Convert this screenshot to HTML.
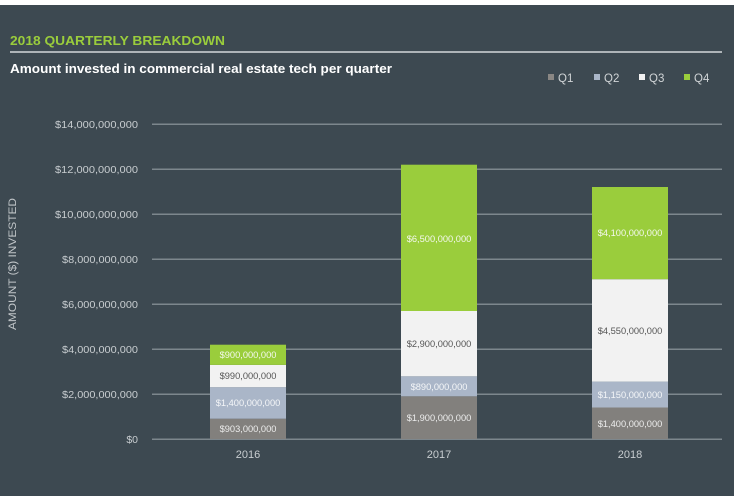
<!DOCTYPE html>
<html><head><meta charset="utf-8"><style>
html,body{margin:0;padding:0;background:#fff;}
svg{display:block;}
</style></head><body>
<svg width="734" height="501" viewBox="0 0 734 501" xmlns="http://www.w3.org/2000/svg" font-family="Liberation Sans, Arial, sans-serif">
<rect x="0" y="0" width="734" height="501" fill="#ffffff"/>
<rect x="0" y="5" width="734" height="491" fill="#3d4951"/>
<text x="10" y="45" font-size="13" font-weight="bold" fill="#9acd3c" textLength="215" lengthAdjust="spacingAndGlyphs">2018 QUARTERLY BREAKDOWN</text>
<rect x="10" y="51" width="712" height="2" fill="#aeb4b8"/>
<text x="10" y="73" font-size="13" font-weight="bold" fill="#ffffff" textLength="382" lengthAdjust="spacingAndGlyphs">Amount invested in commercial real estate tech per quarter</text>
<!-- legend -->
<rect x="548" y="74" width="6" height="6" fill="#8a8784"/>
<text x="558" y="82" font-size="11.5" fill="#d0d4d6">Q1</text>
<rect x="594" y="74" width="6" height="6" fill="#aab6c8"/>
<text x="604" y="82" font-size="11.5" fill="#d0d4d6">Q2</text>
<rect x="639" y="74" width="6" height="6" fill="#f2f2f2"/>
<text x="649" y="82" font-size="11.5" fill="#d0d4d6">Q3</text>
<rect x="684" y="74" width="6" height="6" fill="#9acd3c"/>
<text x="694" y="82" font-size="11.5" fill="#d0d4d6">Q4</text>
<!-- gridlines -->
<g fill="#7d878d">
<rect x="152" y="123.5" width="570" height="1.5"/>
<rect x="152" y="168.5" width="570" height="1.5"/>
<rect x="152" y="213.5" width="570" height="1.5"/>
<rect x="152" y="258.5" width="570" height="1.5"/>
<rect x="152" y="303.5" width="570" height="1.5"/>
<rect x="152" y="348.5" width="570" height="1.5"/>
<rect x="152" y="393.5" width="570" height="1.5"/>
<rect x="152" y="438.5" width="570" height="1.5"/>
</g>
<g font-size="10.5" fill="#c8cdd0" text-anchor="end">
<text x="138" y="128" textLength="83" lengthAdjust="spacingAndGlyphs">$14,000,000,000</text>
<text x="138" y="173" textLength="83" lengthAdjust="spacingAndGlyphs">$12,000,000,000</text>
<text x="138" y="218" textLength="83" lengthAdjust="spacingAndGlyphs">$10,000,000,000</text>
<text x="138" y="263" textLength="76" lengthAdjust="spacingAndGlyphs">$8,000,000,000</text>
<text x="138" y="308" textLength="76" lengthAdjust="spacingAndGlyphs">$6,000,000,000</text>
<text x="138" y="353" textLength="76" lengthAdjust="spacingAndGlyphs">$4,000,000,000</text>
<text x="138" y="398" textLength="76" lengthAdjust="spacingAndGlyphs">$2,000,000,000</text>
<text x="138" y="443">$0</text>
</g>
<text transform="translate(16,264) rotate(-90)" font-size="11" fill="#c0c5c8" text-anchor="middle" textLength="132" lengthAdjust="spacingAndGlyphs">AMOUNT ($) INVESTED</text>
<!-- bars 2016 -->
<rect x="210" y="418.7" width="76" height="20.3" fill="#82807d"/>
<rect x="210" y="387.2" width="76" height="31.5" fill="#aab6c8"/>
<rect x="210" y="364.9" width="76" height="22.3" fill="#f2f2f2"/>
<rect x="210" y="344.7" width="76" height="20.2" fill="#9acd3c"/>
<!-- bars 2017 -->
<rect x="401" y="396.3" width="76" height="42.7" fill="#82807d"/>
<rect x="401" y="376.3" width="76" height="20" fill="#aab6c8"/>
<rect x="401" y="311" width="76" height="65.3" fill="#f2f2f2"/>
<rect x="401" y="164.7" width="76" height="146.3" fill="#9acd3c"/>
<!-- bars 2018 -->
<rect x="592" y="407.5" width="76" height="31.5" fill="#82807d"/>
<rect x="592" y="381.6" width="76" height="25.9" fill="#aab6c8"/>
<rect x="592" y="279.2" width="76" height="102.4" fill="#f2f2f2"/>
<rect x="592" y="187" width="76" height="92.2" fill="#9acd3c"/>
<g font-size="9.3" text-anchor="middle">
<text x="248" y="432" fill="#ececec">$903,000,000</text>
<text x="248" y="406" fill="#f4f6f8">$1,400,000,000</text>
<text x="248" y="379" fill="#555555">$990,000,000</text>
<text x="248" y="358" fill="#f4f8ee">$900,000,000</text>
<text x="439" y="421" fill="#ececec">$1,900,000,000</text>
<text x="439" y="390" fill="#f4f6f8">$890,000,000</text>
<text x="439" y="347" fill="#555555">$2,900,000,000</text>
<text x="439" y="242" fill="#f4f8ee">$6,500,000,000</text>
<text x="630" y="427" fill="#ececec">$1,400,000,000</text>
<text x="630" y="398" fill="#f4f6f8">$1,150,000,000</text>
<text x="630" y="334" fill="#555555">$4,550,000,000</text>
<text x="630" y="236" fill="#f4f8ee">$4,100,000,000</text>
</g>
<g font-size="11" fill="#c8cdd0" text-anchor="middle">
<text x="248" y="458">2016</text>
<text x="439" y="458">2017</text>
<text x="630" y="458">2018</text>
</g>
</svg>
</body></html>
